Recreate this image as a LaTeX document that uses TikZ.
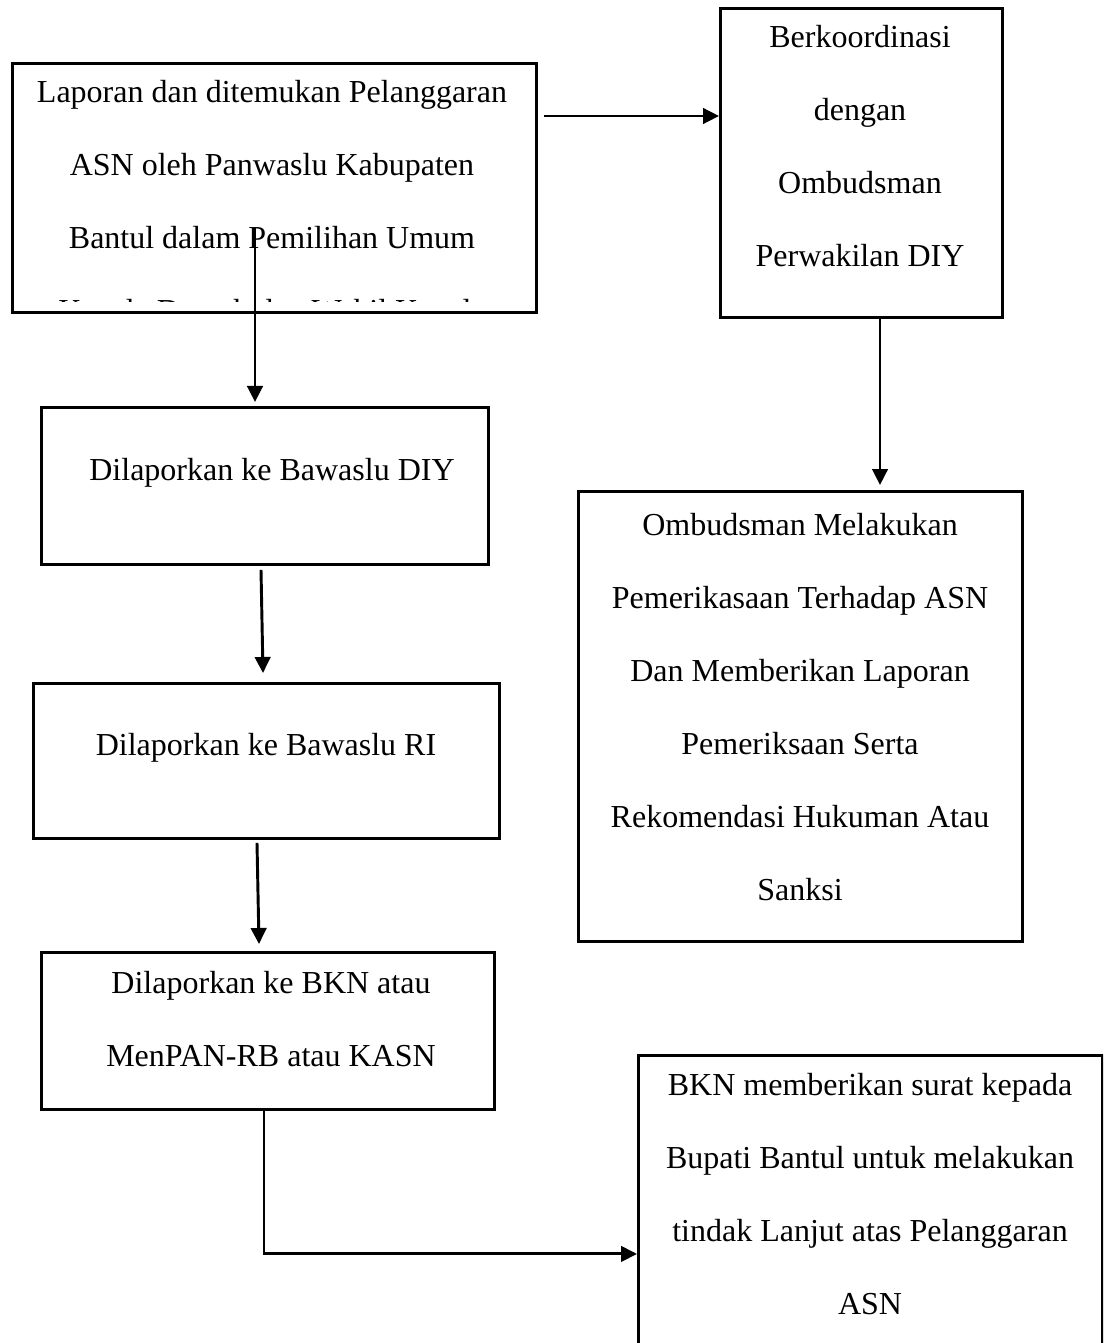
\documentclass[tikz,border=0pt]{standalone}
\usepackage{fontspec}
\setmainfont{Liberation Serif}
\usetikzlibrary{arrows.meta}
\newcommand\fstrut{\rule{0pt}{9pt}}
\begin{document}
\begin{tikzpicture}[x=0.375pt,y=-0.375pt,
  box/.style={draw, line width=1.1pt, rectangle, inner sep=0pt, anchor=north west},
  txt/.style={align=center, anchor=north, inner sep=0pt, font=\fontsize{12pt}{27.4pt}\selectfont},
  conn/.style={line width=1.1pt, -{Triangle[length=6pt,width=5.8pt]}},
  plain/.style={line width=1.1pt}]
\useasboundingbox (0,0) rectangle (1103,1343);
\clip (0,0) rectangle (1103,1343);

% boxes
\node[box, minimum width=524*0.375pt, minimum height=249*0.375pt] (b1) at (11,62) {};
\node[box, minimum width=282*0.375pt, minimum height=309*0.375pt] (b2) at (719,7) {};
\node[box, minimum width=447*0.375pt, minimum height=157*0.375pt] (b3) at (40,406) {};
\node[box, minimum width=466*0.375pt, minimum height=155*0.375pt] (b4) at (32,682) {};
\node[box, minimum width=453*0.375pt, minimum height=157*0.375pt] (b5) at (40,951) {};
\node[box, minimum width=444*0.375pt, minimum height=450*0.375pt] (b6) at (577,490) {};
\node[box, minimum width=464*0.375pt, minimum height=340*0.375pt] (b7) at (637,1054) {};

% texts
\begin{scope}
\clip (11,62) rectangle (535,302);
\node[txt] (t1) at (272,78) {\fstrut Laporan dan ditemukan Pelanggaran\\ASN oleh Panwaslu Kabupaten\\Bantul dalam Pemilihan Umum\\Kepala Daerah dan Wakil Kepala};
\end{scope}
\node[txt] (t2) at (860,23) {\fstrut Berkoordinasi\\dengan\\Ombudsman\\Perwakilan DIY};
\node[txt] (t3) at (272,456) {\fstrut Dilaporkan ke Bawaslu DIY};
\node[txt] (t4) at (266,731) {\fstrut Dilaporkan ke Bawaslu RI};
\node[txt] (t5) at (271,969) {\fstrut Dilaporkan ke BKN atau\\MenPAN-RB atau KASN};
\node[txt] (t6) at (800,511) {\fstrut Ombudsman Melakukan\\Pemerikasaan Terhadap ASN\\Dan Memberikan Laporan\\Pemeriksaan Serta\\Rekomendasi Hukuman Atau\\Sanksi};
\node[txt] (t7) at (870,1071) {\fstrut BKN memberikan surat kepada\\Bupati Bantul untuk melakukan\\tindak Lanjut atas Pelanggaran\\ASN};

% connectors
\draw[conn] ([shift={(6,54)}]b1.north east) -- ([shift={(0,109)}]b2.north west);
\draw[conn] ([shift={(244,166)}]b1.north west) -- ([shift={(215,-4)}]b3.north west);
\draw[conn] ([shift={(221,4)}]b3.south west) -- ([shift={(231,-9)}]b4.north west);
\draw[conn] ([shift={(225,3)}]b4.south west) -- ([shift={(219,-7)}]b5.north west);
\draw[conn] ([shift={(161,0)}]b2.south west) -- ([shift={(303,-5)}]b6.north west);
\coordinate (elb) at ([shift={(224,143)}]b5.south west);
\draw[conn] ([shift={(224,0)}]b5.south west) -- (elb) -- (elb -| b7.west);
\end{tikzpicture}
\end{document}
